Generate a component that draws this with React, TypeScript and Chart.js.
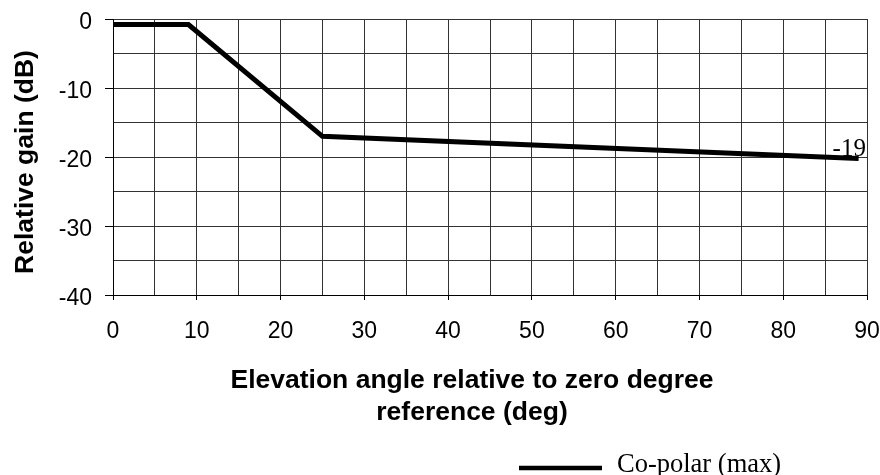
import React, { useEffect, useRef } from "react";
import { Chart, registerables } from "chart.js";

Chart.register(...registerables);

// Data
const elevationDeg = [0, 9, 25, 89];
const relativeGainDb = [-0.8, -0.8, -17, -20.2];
const seriesName = "Co-polar (max)";
const endLabel = "-19";
const xTitleLines = ["Elevation angle relative to zero degree", "reference (deg)"];
const yTitle = "Relative gain (dB)";
const xRange = [0, 90];
const yRange = [-40, 0];

const SANS = "'Liberation Sans', Arial, sans-serif";
const SERIF = "'Liberation Serif', 'Times New Roman', serif";

const overlayPlugin = {
  id: "overlay",
  afterDraw(chart: any) {
    const ctx = chart.ctx as CanvasRenderingContext2D;
    const xs = chart.scales.x;
    const ys = chart.scales.y;
    ctx.save();
    ctx.fillStyle = "#000";
    // Y title
    ctx.font = `bold 26.5px ${SANS}`;
    ctx.textAlign = "center";
    ctx.textBaseline = "alphabetic";
    ctx.save();
    ctx.translate(33, 162);
    ctx.rotate(-Math.PI / 2);
    ctx.fillText(yTitle, 0, 0);
    ctx.restore();
    // X title
    ctx.fillText(xTitleLines[0], 472, 388);
    ctx.fillText(xTitleLines[1], 472, 420);
    // End label
    const n = elevationDeg.length - 1;
    const px = xs.getPixelForValue(elevationDeg[n]);
    const py = ys.getPixelForValue(relativeGainDb[n]);
    ctx.font = `25px ${SERIF}`;
    ctx.textAlign = "left";
    ctx.fillText(endLabel, px - 26, py - 2);
    // Legend
    ctx.strokeStyle = "#000";
    ctx.lineWidth = 4.5;
    ctx.beginPath();
    ctx.moveTo(519, 468);
    ctx.lineTo(602, 468);
    ctx.stroke();
    ctx.font = `26.5px ${SERIF}`;
    ctx.fillText(seriesName, 617, 472);
    ctx.restore();
  },
};

export default function App() {
  const ref = useRef<HTMLCanvasElement | null>(null);
  useEffect(() => {
    if (!ref.current) return;
    const chart = new Chart(ref.current, {
      type: "line",
      data: {
        datasets: [
          {
            label: seriesName,
            data: elevationDeg.map((x, i) => ({ x, y: relativeGainDb[i] })),
            borderColor: "#000",
            backgroundColor: "#000",
            borderWidth: 5,
            pointRadius: 0,
            tension: 0,
            borderJoinStyle: "miter",
            borderCapStyle: "butt",
          },
        ],
      },
      options: {
        animation: false,
        responsive: false,
        devicePixelRatio: 1,
        layout: { padding: { top: 19, left: 0, right: 13, bottom: 0 } },
        plugins: {
          legend: { display: false },
          tooltip: { enabled: false },
        },
        scales: {
          x: {
            type: "linear",
            min: xRange[0],
            max: xRange[1],
            afterFit: (s: any) => {
              s.height = 180;
              s.paddingLeft = 0;
              s.paddingRight = 0;
            },
            ticks: {
              stepSize: 5,
              autoSkip: false,
              maxRotation: 0,
              padding: 18,
              color: "#000",
              font: { family: SANS, size: 23 },
              callback: (v: any) => (Number(v) % 10 === 0 ? String(v) : ""),
            },
            grid: {
              color: "#333",
              lineWidth: 1,
              tickLength: 5,
              tickColor: (c: any) => (c.tick && c.tick.value % 10 === 0 ? "#000" : "rgba(0,0,0,0)"),
            },
            border: { color: "#000", width: 1 },
          },
          y: {
            type: "linear",
            min: yRange[0],
            max: yRange[1],
            afterFit: (s: any) => {
              s.width = 113;
              s.paddingTop = 0;
              s.paddingBottom = 0;
            },
            ticks: {
              stepSize: 5,
              autoSkip: false,
              padding: 13,
              labelOffset: 4,
              color: "#000",
              font: { family: SANS, size: 23 },
              callback: (v: any) => (Number(v) % 10 === 0 ? String(v) : ""),
            },
            grid: {
              color: "#333",
              lineWidth: 1,
              tickLength: 8,
              tickColor: (c: any) => (c.tick && c.tick.value % 10 === 0 ? "#000" : "rgba(0,0,0,0)"),
            },
            border: { color: "#000", width: 1 },
          },
        },
      },
      plugins: [overlayPlugin],
    } as any);
    return () => chart.destroy();
  }, []);
  return (
    <div style={{ position: "fixed", left: 0, top: 0, width: 880, height: 475, background: "#fff" }}>
      <canvas ref={ref} width={880} height={475} style={{ width: 880, height: 475, display: "block" }} />
    </div>
  );
}
